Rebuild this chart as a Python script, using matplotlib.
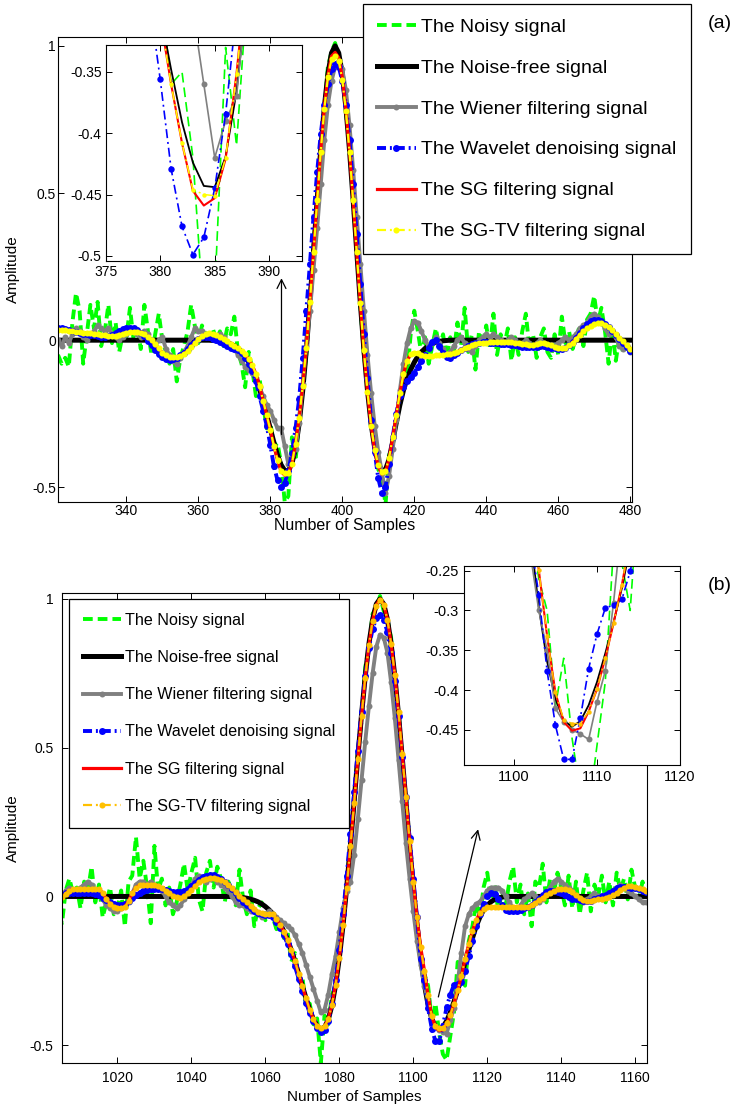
import numpy as np
import matplotlib
matplotlib.use('Agg')
import matplotlib.pyplot as plt
from matplotlib.ticker import FuncFormatter

plt.rcParams['font.family'] = ['Liberation Sans', 'DejaVu Sans']
plt.rcParams['axes.unicode_minus'] = False

labels = ['The Noisy signal', 'The Noise-free signal', 'The Wiener filtering signal',
          'The Wavelet denoising signal', 'The SG filtering signal', 'The SG-TV filtering signal']

# ---------------- panel (a): samples 321..480 ----------------
samples_a = np.arange(321, 481)

noisy_a = [
    -0.05, -0.08, -0.06, -0.09, 0.06, 0.16, 0.10, -0.08, 0.02, 0.12,
    0.04, 0.13, -0.02, 0.03, 0.12, -0.01, 0.06, -0.04, 0.02, 0.01,
    0.11, 0.00, 0.05, -0.03, 0.12, 0.03, -0.05, 0.02, 0.09, 0.00,
    -0.04, -0.08, -0.03, -0.14, -0.06, -0.02, 0.03, 0.12, 0.05, -0.01,
    0.05, 0.02, -0.01, 0.04, 0.00, 0.03, -0.02, 0.04, 0.02, 0.08,
    -0.04, -0.08, -0.16, -0.04, -0.10, -0.19, -0.13, -0.22, -0.30, -0.28,
    -0.36, -0.35, -0.42, -0.55, -0.53, -0.33, -0.41, -0.28, -0.16, -0.05,
    0.14, 0.32, 0.47, 0.67, 0.78, 0.93, 0.98, 1.01, 0.96, 0.92,
    0.77, 0.67, 0.46, 0.31, 0.12, -0.05, -0.15, -0.30, -0.35, -0.44,
    -0.46, -0.56, -0.39, -0.36, -0.26, -0.23, -0.10, -0.12, 0.02, 0.10,
    0.03, -0.05, 0.01, -0.08, -0.02, 0.04, -0.03, 0.02, -0.06, 0.01,
    -0.04, 0.06, -0.02, 0.11, -0.04, 0.02, -0.10, 0.03, -0.02, 0.05,
    -0.03, 0.09, -0.05, 0.02, -0.02, 0.04, -0.07, 0.01, -0.05, 0.03,
    0.09, -0.03, 0.02, -0.06, 0.01, 0.04, -0.04, -0.06, 0.02, -0.05,
    0.08, -0.01, 0.03, -0.03, 0.01, 0.05, -0.02, 0.07, 0.09, 0.15,
    0.06, 0.11, 0.03, -0.08, 0.04, -0.07, 0.01, -0.04, -0.02, -0.03,
]

clean_a = [
    0, 0, 0, 0, 0, 0, 0, 0, 0, 0,
    0, 0, 0, 0, 0, 0, 0, 0, 0, 0,
    0, 0, 0, 0, 0, 0, 0, 0, 0, 0,
    0, 0, 0, 0, 0, 0, 0, 0, 0, 0,
    0, 0, 0, -0.001, -0.002, -0.003, -0.005, -0.008, -0.013, -0.019,
    -0.027, -0.039, -0.054, -0.074, -0.099, -0.130, -0.166, -0.208, -0.254, -0.301,
    -0.348, -0.391, -0.424, -0.443, -0.444, -0.419, -0.366, -0.284, -0.171, -0.032,
    0.129, 0.303, 0.479, 0.646, 0.791, 0.904, 0.976, 1.0, 0.976, 0.904,
    0.791, 0.646, 0.479, 0.303, 0.129, -0.032, -0.171, -0.284, -0.366, -0.419,
    -0.443, -0.440, -0.405, -0.345, -0.280, -0.220, -0.170, -0.130, -0.100, -0.075,
    -0.055, -0.040, -0.028, -0.019, -0.012, -0.007, -0.004, -0.002, -0.001, 0,
    0, 0, 0, 0, 0, 0, 0, 0, 0, 0,
    0, 0, 0, 0, 0, 0, 0, 0, 0, 0,
    0, 0, 0, 0, 0, 0, 0, 0, 0, 0,
    0, 0, 0, 0, 0, 0, 0, 0, 0, 0,
    0, 0, 0, 0, 0, 0, 0, 0, 0, 0,
]

wiener_a = [
    0.00, -0.02, 0.01, -0.01, 0.02, 0.04, 0.03, 0.01, 0.00, 0.02,
    0.03, 0.05, 0.04, 0.03, 0.04, 0.02, 0.01, 0.00, 0.01, 0.02,
    0.04, 0.03, 0.02, 0.01, 0.03, 0.02, -0.01, -0.02, 0.00, 0.01,
    -0.03, -0.05, -0.07, -0.08, -0.06, -0.04, -0.02, 0.01, 0.04, 0.03,
    0.03, 0.02, 0.02, 0.01, 0.00, 0.02, 0.01, -0.01, -0.02, -0.03,
    -0.05, -0.07, -0.09, -0.10, -0.11, -0.13, -0.16, -0.19, -0.22, -0.24,
    -0.27, -0.30, -0.30, -0.36, -0.42, -0.39, -0.37, -0.28, -0.15, -0.02,
    0.10, 0.24, 0.38, 0.53, 0.68, 0.80, 0.88, 0.93, 0.95, 0.92,
    0.85, 0.73, 0.58, 0.42, 0.26, 0.10, -0.05, -0.18, -0.29, -0.38,
    -0.45, -0.52, -0.46, -0.37, -0.27, -0.17, -0.08, -0.01, 0.04, 0.065,
    0.06, 0.03, 0.00, -0.02, -0.01, 0.01, -0.01, -0.03, -0.05, -0.04,
    -0.02, 0.00, 0.01, -0.01, -0.03, -0.04, -0.02, 0.00, 0.01, 0.02,
    0.01, 0.02, 0.01, 0.00, -0.01, 0.00, 0.01, 0.00, -0.02, -0.01,
    0.00, -0.01, -0.02, -0.01, 0.00, -0.01, -0.02, -0.03, -0.02, -0.01,
    0.00, 0.01, 0.00, 0.01, 0.02, 0.04, 0.05, 0.06, 0.08, 0.09,
    0.08, 0.06, 0.04, 0.02, 0.03, 0.01, -0.02, -0.03, -0.02, -0.04,
]

wavelet_a = [
    0.040, 0.040, 0.038, 0.035, 0.032, 0.028, 0.025, 0.022, 0.020, 0.018,
    0.016, 0.014, 0.012, 0.012, 0.014, 0.018, 0.024, 0.032, 0.038, 0.042,
    0.043, 0.040, 0.034, 0.025, 0.013, -0.002, -0.018, -0.033, -0.047, -0.058,
    -0.065, -0.067, -0.065, -0.060, -0.052, -0.042, -0.030, -0.017, -0.005, 0.005,
    0.010, 0.012, 0.010, 0.005, 0.000, -0.005, -0.012, -0.020, -0.025, -0.030,
    -0.035, -0.045, -0.060, -0.080, -0.105, -0.140, -0.190, -0.240, -0.290, -0.356,
    -0.429, -0.476, -0.499, -0.485, -0.445, -0.384, -0.300, -0.200, -0.060, 0.100,
    0.260, 0.420, 0.570, 0.700, 0.800, 0.870, 0.920, 0.940, 0.930, 0.880,
    0.800, 0.680, 0.530, 0.360, 0.190, 0.020, -0.130, -0.270, -0.380, -0.470,
    -0.520, -0.500, -0.420, -0.330, -0.250, -0.190, -0.160, -0.140, -0.125, -0.110,
    -0.090, -0.070, -0.050, -0.025, -0.005, 0.000, -0.020, -0.045, -0.058, -0.060,
    -0.050, -0.043, -0.035, -0.027, -0.020, -0.014, -0.010, -0.008, -0.007, -0.007,
    -0.008, -0.009, -0.010, -0.012, -0.013, -0.014, -0.016, -0.018, -0.020, -0.022,
    -0.023, -0.024, -0.024, -0.022, -0.020, -0.020, -0.022, -0.025, -0.028, -0.030,
    -0.030, -0.026, -0.018, -0.006, 0.008, 0.024, 0.040, 0.054, 0.064, 0.068,
    0.068, 0.064, 0.056, 0.045, 0.032, 0.018, 0.004, -0.010, -0.024, -0.036,
]

sg_a = [
    0.035, 0.034, 0.033, 0.032, 0.030, 0.029, 0.027, 0.026, 0.025, 0.024,
    0.022, 0.020, 0.018, 0.016, 0.015, 0.014, 0.015, 0.018, 0.022, 0.025,
    0.027, 0.029, 0.029, 0.027, 0.022, 0.012, -0.001, -0.014, -0.028, -0.042,
    -0.052, -0.057, -0.058, -0.057, -0.054, -0.047, -0.037, -0.024, -0.010, 0.003,
    0.013, 0.020, 0.023, 0.021, 0.017, 0.012, 0.005, -0.004, -0.012, -0.020,
    -0.028, -0.036, -0.048, -0.064, -0.085, -0.115, -0.155, -0.205, -0.255, -0.305,
    -0.360, -0.408, -0.447, -0.459, -0.453, -0.421, -0.351, -0.265, -0.155, -0.025,
    0.130, 0.302, 0.478, 0.645, 0.790, 0.900, 0.965, 0.978, 0.960, 0.893,
    0.785, 0.642, 0.476, 0.300, 0.125, -0.035, -0.175, -0.290, -0.374, -0.430,
    -0.455, -0.450, -0.402, -0.331, -0.255, -0.180, -0.115, -0.070, -0.048, -0.042,
    -0.045, -0.050, -0.053, -0.054, -0.053, -0.052, -0.051, -0.050, -0.048, -0.046,
    -0.043, -0.039, -0.034, -0.028, -0.023, -0.018, -0.014, -0.011, -0.010, -0.008,
    -0.007, -0.006, -0.006, -0.006, -0.006, -0.006, -0.007, -0.008, -0.010, -0.012,
    -0.014, -0.015, -0.015, -0.013, -0.011, -0.011, -0.013, -0.017, -0.022, -0.027,
    -0.028, -0.025, -0.018, -0.008, 0.005, 0.018, 0.030, 0.040, 0.048, 0.054,
    0.057, 0.057, 0.053, 0.045, 0.034, 0.021, 0.008, -0.004, -0.017, -0.030,
]

sgtv_a = [
    0.034, 0.034, 0.033, 0.031, 0.030, 0.028, 0.027, 0.026, 0.025, 0.024,
    0.022, 0.020, 0.018, 0.016, 0.015, 0.014, 0.015, 0.018, 0.022, 0.025,
    0.027, 0.028, 0.028, 0.026, 0.021, 0.012, -0.001, -0.014, -0.028, -0.042,
    -0.052, -0.057, -0.058, -0.057, -0.054, -0.047, -0.037, -0.024, -0.010, 0.003,
    0.013, 0.020, 0.023, 0.021, 0.017, 0.012, 0.005, -0.004, -0.012, -0.020,
    -0.028, -0.036, -0.048, -0.064, -0.085, -0.115, -0.155, -0.205, -0.255, -0.305,
    -0.360, -0.408, -0.446, -0.450, -0.451, -0.420, -0.352, -0.265, -0.155, -0.025,
    0.130, 0.300, 0.475, 0.640, 0.785, 0.895, 0.955, 0.965, 0.950, 0.885,
    0.780, 0.640, 0.475, 0.300, 0.125, -0.035, -0.175, -0.290, -0.372, -0.425,
    -0.448, -0.445, -0.400, -0.330, -0.255, -0.180, -0.115, -0.070, -0.048, -0.042,
    -0.045, -0.050, -0.053, -0.054, -0.053, -0.052, -0.051, -0.050, -0.048, -0.046,
    -0.043, -0.039, -0.034, -0.028, -0.023, -0.018, -0.014, -0.011, -0.010, -0.008,
    -0.007, -0.006, -0.006, -0.006, -0.006, -0.006, -0.007, -0.008, -0.010, -0.012,
    -0.014, -0.015, -0.015, -0.013, -0.011, -0.011, -0.013, -0.017, -0.022, -0.027,
    -0.028, -0.025, -0.018, -0.008, 0.005, 0.018, 0.030, 0.040, 0.048, 0.054,
    0.057, 0.057, 0.053, 0.045, 0.034, 0.021, 0.008, -0.004, -0.017, -0.030,
]

# ---------------- panel (b): samples 1004..1163 ----------------
samples_b = np.arange(1004, 1164)

noisy_b = [
    -0.06, -0.09, 0.02, 0.06, 0.01, 0.03, -0.04, 0.05, 0.02, 0.10,
    -0.02, 0.04, -0.07, -0.02, 0.03, -0.06, -0.04, 0.02, -0.10, 0.05,
    0.07, 0.20, 0.06, 0.12, 0.03, -0.09, 0.17, 0.02, 0.06, -0.03,
    0.03, -0.06, -0.02, 0.04, 0.11, 0.02, 0.08, 0.13, -0.01, -0.05,
    0.08, 0.12, 0.03, 0.10, 0.06, -0.02, 0.05, 0.01, -0.03, 0.09,
    -0.01, -0.06, 0.02, -0.10, -0.04, -0.02, -0.08, -0.05, -0.07, -0.11,
    -0.08, -0.14, -0.12, -0.22, -0.19, -0.28, -0.27, -0.37, -0.36, -0.43,
    -0.41, -0.56, -0.40, -0.43, -0.33, -0.30, -0.20, -0.08, 0.03, 0.19,
    0.31, 0.49, 0.59, 0.77, 0.84, 0.95, 0.97, 1.01, 0.96, 0.93,
    0.87, 0.72, 0.62, 0.45, 0.34, 0.15, 0.05, -0.11, -0.19, -0.26,
    -0.30, -0.42, -0.36, -0.46, -0.53, -0.55, -0.47, -0.39, -0.22, -0.24,
    -0.30, -0.15, -0.10, -0.02, -0.07, 0.03, 0.08, -0.01, 0.04, -0.05,
    0.02, -0.03, 0.05, 0.10, -0.02, 0.04, -0.06, 0.01, -0.10, 0.05,
    0.03, 0.11, -0.02, 0.06, 0.01, 0.08, 0.03, -0.03, 0.07, -0.04,
    0.05, -0.06, 0.02, 0.08, -0.05, 0.04, 0.00, 0.07, -0.02, 0.05,
    -0.03, 0.08, 0.02, 0.06, -0.01, 0.09, 0.03, -0.01, 0.05, -0.02,
]

clean_b = [
    0, 0, 0, 0, 0, 0, 0, 0, 0, 0,
    0, 0, 0, 0, 0, 0, 0, 0, 0, 0,
    0, 0, 0, 0, 0, 0, 0, 0, 0, 0,
    0, 0, 0, 0, 0, 0, 0, 0, 0, 0,
    0, 0, 0, 0, 0, 0, 0, -0.001, -0.002, -0.003,
    -0.004, -0.006, -0.009, -0.013, -0.018, -0.025, -0.034, -0.045, -0.058, -0.074,
    -0.093, -0.117, -0.146, -0.180, -0.218, -0.259, -0.301, -0.343, -0.381, -0.413,
    -0.436, -0.446, -0.440, -0.414, -0.366, -0.297, -0.206, -0.096, 0.032, 0.172,
    0.320, 0.468, 0.611, 0.740, 0.849, 0.931, 0.983, 1.0, 0.983, 0.931,
    0.849, 0.740, 0.611, 0.468, 0.320, 0.172, 0.032, -0.096, -0.206, -0.296,
    -0.364, -0.411, -0.438, -0.446, -0.439, -0.419, -0.390, -0.354, -0.315, -0.272,
    -0.220, -0.180, -0.140, -0.100, -0.070, -0.045, -0.030, -0.018, -0.010, -0.005,
    -0.002, -0.001, 0, 0, 0, 0, 0, 0, 0, 0,
    0, 0, 0, 0, 0, 0, 0, 0, 0, 0,
    0, 0, 0, 0, 0, 0, 0, 0, 0, 0,
    0, 0, 0, 0, 0, 0, 0, 0, 0, 0,
]

wiener_b = [
    -0.02, 0.00, 0.02, 0.03, 0.02, 0.01, 0.03, 0.04, 0.05, 0.04,
    0.02, 0.01, -0.01, -0.03, -0.04, -0.05, -0.05, -0.04, -0.03, -0.02,
    0.01, 0.04, 0.05, 0.05, 0.04, 0.05, 0.04, 0.03, 0.02, 0.00,
    -0.02, -0.03, -0.04, -0.03, -0.01, 0.02, 0.04, 0.06, 0.07, 0.06,
    0.05, 0.06, 0.07, 0.05, 0.04, 0.03, 0.02, 0.00, -0.02, -0.03,
    -0.03, -0.04, -0.05, -0.05, -0.06, -0.07, -0.06, -0.05, -0.06, -0.07,
    -0.08, -0.09, -0.10, -0.11, -0.13, -0.16, -0.19, -0.23, -0.27, -0.31,
    -0.35, -0.39, -0.38, -0.33, -0.26, -0.20, -0.12, -0.04, 0.02, 0.05,
    0.14, 0.26, 0.39, 0.52, 0.64, 0.75, 0.84, 0.88, 0.87, 0.82,
    0.72, 0.60, 0.46, 0.32, 0.18, 0.06, -0.05, -0.15, -0.23, -0.30,
    -0.35, -0.423, -0.44, -0.45, -0.455, -0.462, -0.415, -0.376, -0.29, -0.19,
    -0.10, -0.06, -0.04, -0.025, -0.017, 0.00, 0.02, 0.03, 0.03, 0.03,
    0.02, 0.00, -0.02, -0.04, -0.05, -0.03, -0.01, 0.00, 0.01, 0.00,
    -0.02, -0.01, 0.01, 0.03, 0.05, 0.06, 0.05, 0.04, 0.03, 0.02,
    0.00, -0.01, -0.02, -0.01, 0.00, 0.01, 0.00, -0.01, 0.00, 0.01,
    0.02, 0.03, 0.04, 0.03, 0.02, 0.01, 0.00, -0.01, -0.02, -0.02,
]

wavelet_b = [
    0.000, 0.005, 0.010, 0.012, 0.012, 0.012, 0.011, 0.010, 0.010, 0.010,
    0.008, 0.004, -0.004, -0.012, -0.020, -0.025, -0.028, -0.028, -0.024, -0.016,
    -0.006, 0.004, 0.012, 0.018, 0.022, 0.024, 0.025, 0.025, 0.024, 0.022,
    0.019, 0.016, 0.014, 0.014, 0.017, 0.024, 0.034, 0.046, 0.057, 0.065,
    0.070, 0.072, 0.071, 0.067, 0.060, 0.050, 0.038, 0.024, 0.010, -0.004,
    -0.017, -0.029, -0.040, -0.049, -0.056, -0.060, -0.062, -0.064, -0.070, -0.085,
    -0.105, -0.130, -0.160, -0.195, -0.235, -0.276, -0.318, -0.357, -0.392, -0.420,
    -0.442, -0.455, -0.450, -0.420, -0.360, -0.280, -0.180, -0.060, 0.070, 0.210,
    0.350, 0.490, 0.620, 0.740, 0.835, 0.900, 0.935, 0.945, 0.930, 0.890,
    0.820, 0.725, 0.605, 0.470, 0.335, 0.195, 0.060, -0.070, -0.210, -0.280,
    -0.376, -0.444, -0.487, -0.487, -0.435, -0.373, -0.330, -0.297, -0.293, -0.286,
    -0.251, -0.200, -0.150, -0.100, -0.060, -0.025, 0.000, 0.010, 0.008, -0.010,
    -0.030, -0.045, -0.050, -0.050, -0.048, -0.044, -0.040, -0.036, -0.030, -0.020,
    -0.008, 0.005, 0.015, 0.020, 0.020, 0.016, 0.010, 0.004, -0.002, -0.007,
    -0.010, -0.012, -0.014, -0.015, -0.014, -0.010, -0.005, 0.000, 0.005, 0.012,
    0.020, 0.027, 0.031, 0.033, 0.032, 0.030, 0.027, 0.024, 0.020, 0.015,
]

sg_b = [
    -0.004, -0.002, 0.009, 0.020, 0.025, 0.025, 0.025, 0.025, 0.025, 0.025,
    0.025, 0.025, 0.012, -0.008, -0.025, -0.036, -0.040, -0.040, -0.036, -0.015,
    0.010, 0.030, 0.038, 0.040, 0.040, 0.040, 0.040, 0.036, 0.028, 0.018,
    0.010, 0.003, -0.003, -0.004, 0.000, 0.010, 0.022, 0.035, 0.047, 0.056,
    0.060, 0.062, 0.062, 0.060, 0.057, 0.050, 0.040, 0.028, 0.015, 0.003,
    -0.008, -0.020, -0.032, -0.043, -0.052, -0.057, -0.058, -0.058, -0.058, -0.075,
    -0.095, -0.118, -0.146, -0.180, -0.218, -0.259, -0.301, -0.343, -0.381, -0.413,
    -0.434, -0.444, -0.437, -0.412, -0.364, -0.296, -0.206, -0.097, 0.030, 0.168,
    0.315, 0.462, 0.605, 0.735, 0.845, 0.927, 0.980, 1.0, 0.982, 0.932,
    0.850, 0.745, 0.620, 0.480, 0.335, 0.185, 0.050, -0.070, -0.170, -0.249,
    -0.332, -0.403, -0.440, -0.451, -0.448, -0.427, -0.399, -0.360, -0.316, -0.268,
    -0.210, -0.160, -0.115, -0.080, -0.055, -0.042, -0.036, -0.035, -0.035, -0.035,
    -0.035, -0.035, -0.035, -0.035, -0.035, -0.035, -0.035, -0.034, -0.030, -0.022,
    -0.012, -0.004, 0.004, 0.012, 0.019, 0.024, 0.026, 0.025, 0.021, 0.014,
    0.006, -0.004, -0.012, -0.016, -0.015, -0.012, -0.010, -0.008, -0.005, -0.002,
    0.004, 0.012, 0.022, 0.030, 0.034, 0.034, 0.032, 0.029, 0.024, 0.017,
]

sgtv_b = [
    -0.005, -0.003, 0.008, 0.020, 0.025, 0.025, 0.025, 0.025, 0.025, 0.025,
    0.025, 0.025, 0.012, -0.008, -0.025, -0.036, -0.040, -0.040, -0.036, -0.015,
    0.010, 0.030, 0.038, 0.040, 0.040, 0.040, 0.040, 0.036, 0.028, 0.018,
    0.010, 0.003, -0.003, -0.004, 0.000, 0.010, 0.022, 0.035, 0.047, 0.056,
    0.060, 0.062, 0.062, 0.060, 0.057, 0.050, 0.040, 0.028, 0.015, 0.003,
    -0.008, -0.020, -0.032, -0.043, -0.052, -0.057, -0.058, -0.058, -0.058, -0.075,
    -0.095, -0.118, -0.146, -0.180, -0.218, -0.259, -0.301, -0.343, -0.381, -0.413,
    -0.434, -0.442, -0.437, -0.412, -0.364, -0.296, -0.206, -0.097, 0.030, 0.168,
    0.315, 0.462, 0.605, 0.735, 0.845, 0.927, 0.978, 0.995, 0.980, 0.930,
    0.850, 0.745, 0.620, 0.480, 0.335, 0.185, 0.050, -0.070, -0.170, -0.249,
    -0.332, -0.403, -0.437, -0.442, -0.442, -0.427, -0.399, -0.360, -0.316, -0.268,
    -0.210, -0.160, -0.115, -0.080, -0.055, -0.042, -0.036, -0.035, -0.035, -0.035,
    -0.035, -0.035, -0.035, -0.035, -0.035, -0.035, -0.035, -0.034, -0.030, -0.022,
    -0.012, -0.004, 0.004, 0.012, 0.019, 0.024, 0.026, 0.025, 0.021, 0.014,
    0.006, -0.004, -0.012, -0.016, -0.015, -0.012, -0.010, -0.008, -0.005, -0.002,
    0.004, 0.012, 0.022, 0.030, 0.034, 0.034, 0.032, 0.029, 0.024, 0.017,
]


def draw(ax, x, series, tv_color, small=False):
    noisy, clean, wiener, wavelet, sg, sgtv = series
    if small:
        lw_n, lw_k, lw_g, lw_b, lw_r, lw_y = 1.2, 1.3, 1.2, 1.2, 1.5, 1.1
        ms_g, ms_b, ms_y = 4.3, 4.6, 3.2
    else:
        lw_n, lw_k, lw_g, lw_b, lw_r, lw_y = 2.8, 3.6, 2.8, 2.8, 2.3, 1.6
        ms_g, ms_b, ms_y = 4.3, 5.0, 4.4
    dash = lambda lw: (0, (7.0 / lw, 3.6 / lw))
    dashdot = lambda lw: (0, (6.5 / lw, 2.8 / lw, 1.4 / lw, 2.8 / lw))
    lines = []
    lines += ax.plot(x, noisy, color='#00ff00', lw=lw_n, ls=dash(lw_n), label=labels[0])
    lines += ax.plot(x, clean, color='black', lw=lw_k, label=labels[1])
    lines += ax.plot(x, wiener, color='#808080', lw=lw_g, marker='o', ms=ms_g, mew=0, label=labels[2])
    lines += ax.plot(x, wavelet, color='#0000ff', lw=lw_b, ls=dashdot(lw_b), marker='o', ms=ms_b, mew=0,
                     label=labels[3])
    lines += ax.plot(x, sg, color='#ff0000', lw=lw_r, label=labels[4])
    lines += ax.plot(x, sgtv, color=tv_color, lw=lw_y, ls=dashdot(lw_y), marker='o', ms=ms_y, mew=0,
                     label=labels[5])
    return lines


def style(ax, size=10, pad=3):
    ax.tick_params(direction='in', top=True, right=True, length=4, width=0.7, labelsize=size, pad=pad)
    for s in ax.spines.values():
        s.set_linewidth(0.8)
    ax.yaxis.set_major_formatter(FuncFormatter(lambda v, p: f'{v:g}'))


fig = plt.figure(figsize=(7.39, 11.07), dpi=100)

# panel (a)
ax_a = fig.add_axes([0.0785, 0.5465, 0.7767, 0.42])
lines_a = draw(ax_a, samples_a, (noisy_a, clean_a, wiener_a, wavelet_a, sg_a, sgtv_a), '#ffff00')
ax_a.set_xlim(321, 480.5)
ax_a.set_ylim(-0.55, 1.03)
ax_a.set_xticks(np.arange(340, 481, 20))
ax_a.set_yticks([-0.5, 0, 0.5, 1])
style(ax_a, pad=1.5)
ax_a.set_xlabel('Number of Samples', fontsize=11.5)
ax_a.set_ylabel('Amplitude', fontsize=11)
ax_a.xaxis.set_label_coords(0.5, -0.034)
ax_a.yaxis.set_label_coords(-0.066, 0.5)
ax_a.annotate('', xy=(383.1, 0.22), xytext=(383.1, -0.33),
              arrowprops=dict(arrowstyle='->', color='black', lw=0.9, mutation_scale=16))

ins_a = fig.add_axes([0.143, 0.7645, 0.2656, 0.1949])
draw(ins_a, samples_a, (noisy_a, clean_a, wiener_a, wavelet_a, sg_a, sgtv_a), '#ffff00', small=True)
ins_a.set_xlim(375, 393)
ins_a.set_ylim(-0.504, -0.328)
ins_a.set_xticks([375, 380, 385, 390])
ins_a.set_yticks([-0.5, -0.45, -0.4, -0.35])
style(ins_a, pad=3)

leg_a = fig.legend(handles=lines_a, loc='upper left', bbox_to_anchor=(363 / 739, 1 - 4 / 1107),
                   borderaxespad=0, fontsize=14, labelspacing=1.2, handlelength=2.0,
                   handletextpad=0.28, borderpad=0.72, fancybox=False, framealpha=1,
                   edgecolor='black', numpoints=1)
leg_a.get_frame().set_linewidth(0.9)

# panel (b)
ax_b = fig.add_axes([0.0839, 0.0397, 0.7916, 0.4246])
lines_b = draw(ax_b, samples_b, (noisy_b, clean_b, wiener_b, wavelet_b, sg_b, sgtv_b), '#ffc000')
ax_b.set_xlim(1005, 1163.2)
ax_b.set_ylim(-0.56, 1.02)
ax_b.set_xticks(np.arange(1020, 1161, 20))
ax_b.set_yticks([-0.5, 0, 0.5, 1])
style(ax_b, size=10, pad=6)
ax_b.set_xlabel('Number of Samples', fontsize=11)
ax_b.set_ylabel('Amplitude', fontsize=11)
ax_b.xaxis.set_label_coords(0.5, -0.057)
ax_b.yaxis.set_label_coords(-0.072, 0.5)
ax_b.annotate('', xy=(1117.7, 0.235), xytext=(1106.6, -0.347),
              arrowprops=dict(arrowstyle='->', color='black', lw=0.9, mutation_scale=16))

leg_b = ax_b.legend(handles=lines_b, loc='upper left', bbox_to_anchor=(69 / 739, 1 - 599 / 1107),
                    bbox_transform=fig.transFigure, borderaxespad=0, fontsize=11.6,
                    labelspacing=1.38, handlelength=2.35, handletextpad=0.3,
                    borderpad=0.85, fancybox=False, framealpha=1, edgecolor='black', numpoints=1)
leg_b.get_frame().set_linewidth(0.9)

ins_b = fig.add_axes([0.6279, 0.309, 0.2923, 0.1798])
draw(ins_b, samples_b, (noisy_b, clean_b, wiener_b, wavelet_b, sg_b, sgtv_b), '#ffc000', small=True)
ins_b.set_xlim(1094, 1120)
ins_b.set_ylim(-0.494, -0.244)
ins_b.set_xticks([1100, 1110, 1120])
ins_b.set_yticks([-0.45, -0.4, -0.35, -0.3, -0.25])
style(ins_b, size=10.5, pad=4)

fig.text(720 / 739, 1 - 23 / 1107, '(a)', fontsize=14, ha='center', va='center')
fig.text(720 / 739, 1 - 585 / 1107, '(b)', fontsize=14, ha='center', va='center')

fig.savefig('out.png', dpi=100)
